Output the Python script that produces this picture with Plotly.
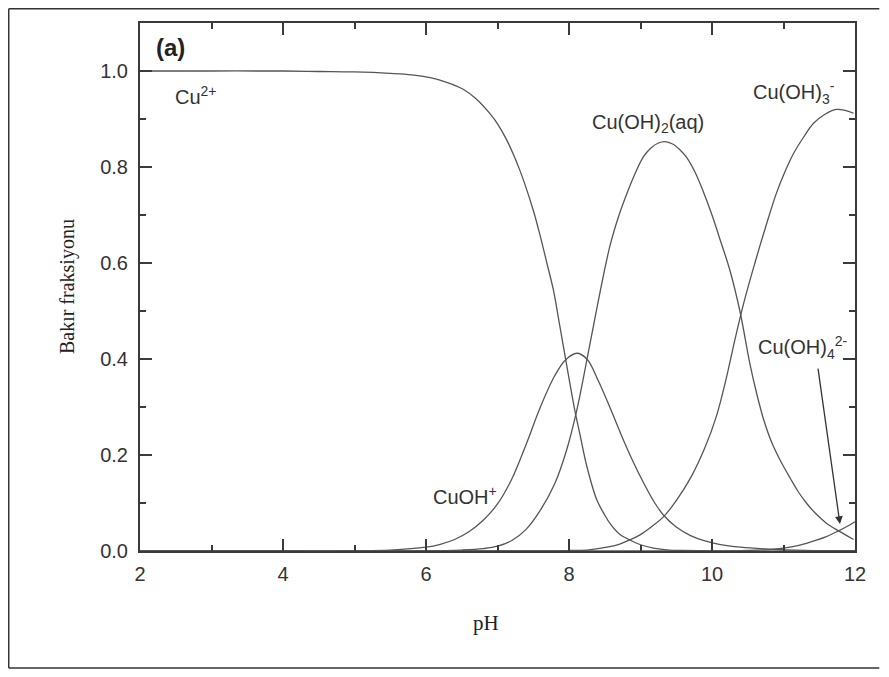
import plotly.graph_objects as go

# ---- data ----
cu2_ph = [2.0, 3.0, 4.0, 4.5, 5.0, 5.5, 5.8, 6.06, 6.3, 6.52, 6.7, 6.9, 7.0, 7.13, 7.31, 7.5, 7.6, 7.69, 7.78, 7.87, 7.97, 8.08, 8.15, 8.25, 8.39, 8.5, 8.57, 8.7, 8.85, 9.0, 9.18, 9.4, 9.6, 10.0, 11.0, 12.0]
cu2_f = [1.0, 1.0, 1.0, 0.999, 0.998, 0.995, 0.992, 0.986, 0.976, 0.962, 0.942, 0.910, 0.890, 0.856, 0.794, 0.710, 0.655, 0.600, 0.545, 0.470, 0.385, 0.294, 0.245, 0.176, 0.106, 0.075, 0.058, 0.036, 0.023, 0.013, 0.006, 0.002, 0.001, 0.0, 0.0, 0.0]

cuoh_ph = [2.0, 4.0, 4.5, 5.0, 5.5, 6.0, 6.2, 6.4, 6.6, 6.8, 7.0, 7.2, 7.4, 7.6, 7.8, 7.95, 8.11, 8.25, 8.4, 8.57, 8.75, 8.9, 9.05, 9.2, 9.32, 9.5, 9.7, 9.9, 10.1, 10.4, 10.8, 11.3, 12.0]
cuoh_f = [0.0, 0.0, 0.0002, 0.0006, 0.002, 0.008, 0.014, 0.024, 0.040, 0.064, 0.098, 0.150, 0.222, 0.300, 0.365, 0.398, 0.412, 0.400, 0.358, 0.300, 0.235, 0.185, 0.140, 0.100, 0.075, 0.050, 0.032, 0.021, 0.014, 0.008, 0.004, 0.0015, 0.0005]

cuoh2_ph = [2.0, 6.0, 6.5, 6.8, 7.0, 7.2, 7.4, 7.6, 7.8, 7.97, 8.11, 8.25, 8.39, 8.57, 8.7, 8.81, 8.92, 9.04, 9.15, 9.25, 9.34, 9.45, 9.55, 9.64, 9.76, 9.88, 10.0, 10.11, 10.25, 10.39, 10.53, 10.63, 10.72, 10.83, 10.95, 11.1, 11.2, 11.32, 11.45, 11.6, 11.77, 11.98]
cuoh2_f = [0.0, 0.0, 0.002, 0.005, 0.010, 0.022, 0.045, 0.085, 0.140, 0.212, 0.294, 0.398, 0.506, 0.634, 0.700, 0.745, 0.785, 0.821, 0.840, 0.850, 0.853, 0.848, 0.836, 0.821, 0.790, 0.748, 0.700, 0.650, 0.585, 0.500, 0.390, 0.325, 0.275, 0.228, 0.190, 0.150, 0.125, 0.100, 0.078, 0.058, 0.042, 0.024]

cuoh3_ph = [2.0, 7.5, 8.0, 8.25, 8.57, 8.7, 8.85, 9.0, 9.15, 9.32, 9.5, 9.71, 9.9, 10.06, 10.2, 10.32, 10.45, 10.6, 10.75, 10.9, 11.02, 11.14, 11.28, 11.42, 11.58, 11.74, 11.86, 11.98]
cuoh3_f = [0.0, 0.0, 0.001, 0.002, 0.009, 0.014, 0.023, 0.034, 0.050, 0.071, 0.105, 0.155, 0.215, 0.280, 0.360, 0.440, 0.520, 0.600, 0.675, 0.745, 0.790, 0.828, 0.862, 0.891, 0.910, 0.920, 0.918, 0.912]

cuoh4_ph = [2.0, 10.0, 10.5, 10.8, 11.0, 11.2, 11.32, 11.45, 11.6, 11.77, 11.9, 12.0]
cuoh4_f = [0.0, 0.0, 0.001, 0.003, 0.006, 0.011, 0.016, 0.022, 0.030, 0.042, 0.052, 0.061]

x_ticks = [2, 4, 6, 8, 10, 12]
y_ticks = [0.0, 0.2, 0.4, 0.6, 0.8, 1.0]
y_tick_labels = ["0.0", "0.2", "0.4", "0.6", "0.8", "1.0"]

series = [
    (cu2_ph, cu2_f),
    (cuoh_ph, cuoh_f),
    (cuoh2_ph, cuoh2_f),
    (cuoh3_ph, cuoh3_f),
    (cuoh4_ph, cuoh4_f),
]

LINE = "#555555"
AX = "#3a3a3a"
TXT = "#333333"
SANS = "Liberation Sans, Arial, sans-serif"
SERIF = "Liberation Serif, Times New Roman, serif"

fig = go.Figure()
for xs, ys in series:
    fig.add_trace(go.Scatter(x=xs, y=ys, mode="lines",
                             line=dict(color=LINE, width=1.3, shape="spline", smoothing=1.0),
                             showlegend=False, hoverinfo="skip"))

axis_common = dict(showgrid=False, zeroline=False, showline=True, linecolor=AX, linewidth=2,
                   ticks="inside", ticklen=12, tickwidth=2, tickcolor=AX, mirror="allticks",
                   tickfont=dict(family=SANS, size=20, color=TXT))

fig.update_xaxes(range=[2, 12], tickvals=x_ticks, ticktext=[str(v) for v in x_ticks],
                 ticklabelstandoff=4,
                 minor=dict(dtick=1, ticks="inside", ticklen=6, tickwidth=1.5, tickcolor=AX),
                 **axis_common)
fig.update_yaxes(range=[0, 1.1], tickvals=y_ticks, ticktext=y_tick_labels,
                 ticklabelstandoff=6,
                 minor=dict(dtick=0.1, tick0=0, ticks="inside", ticklen=6, tickwidth=1.5, tickcolor=AX),
                 **axis_common)

ann_font = dict(family=SANS, size=20, color=TXT)
annotations = [
    dict(x=2.42, y=1.05, text="<b>(a)</b>", showarrow=False, xanchor="center", yanchor="middle",
         font=dict(family=SANS, size=24, color="#222222")),
    dict(x=2.46, y=0.948, text="Cu<sup>2+</sup>", showarrow=False, xanchor="left", yanchor="middle", font=ann_font),
    dict(x=6.07, y=0.115, text="CuOH<sup>+</sup>", showarrow=False, xanchor="left", yanchor="middle", font=ann_font),
    dict(x=8.29, y=0.89, text="Cu(OH)<sub>2</sub>(aq)", showarrow=False, xanchor="left", yanchor="middle", font=ann_font),
    dict(x=10.54, y=0.955, text="Cu(OH)<sub>3</sub><sup>-</sup>", showarrow=False, xanchor="left", yanchor="middle", font=ann_font),
    dict(x=10.61, y=0.425, text="Cu(OH)<sub>4</sub><sup>2-</sup>", showarrow=False, xanchor="left", yanchor="middle", font=ann_font),
    dict(x=11.79, y=0.056, ax=11.48, ay=0.383, axref="x", ayref="y", text="", showarrow=True,
         arrowhead=2, arrowsize=1.2, arrowwidth=1.3, arrowcolor="#333333"),
    dict(xref="paper", yref="paper", x=-0.102, y=0.5, text="Bakır fraksiyonu", textangle=-90,
         showarrow=False, xanchor="center", yanchor="middle",
         font=dict(family=SERIF, size=20, color="#222222")),
    dict(xref="paper", yref="paper", x=0.484, y=-0.136, text="pH",
         showarrow=False, xanchor="center", yanchor="middle",
         font=dict(family=SERIF, size=21, color="#222222")),
]

# frame lines end just inside the figure's right edge
frame = dict(color="#333333", width=1.5)
fx1 = 1.034
shapes = [
    dict(type="line", xref="paper", yref="paper", x0=-0.1836, x1=fx1, y0=1.027, y1=1.027, line=frame),
    dict(type="line", xref="paper", yref="paper", x0=-0.1836, x1=fx1, y0=-0.2216, y1=-0.2216, line=frame),
    dict(type="line", xref="paper", yref="paper", x0=-0.1836, x1=-0.1836, y0=-0.2216, y1=1.027, line=frame),
]

# the page body adds an 8px margin on every side, so the figure is made 16px smaller
# and the margins place the plot area where the reference has it
fig.update_layout(
    width=873, height=661,
    margin=dict(l=132, r=26, t=15, b=118),
    paper_bgcolor="white", plot_bgcolor="white",
    annotations=annotations,
    shapes=shapes,
)

fig.write_html("out.html", config={"displayModeBar": False})
